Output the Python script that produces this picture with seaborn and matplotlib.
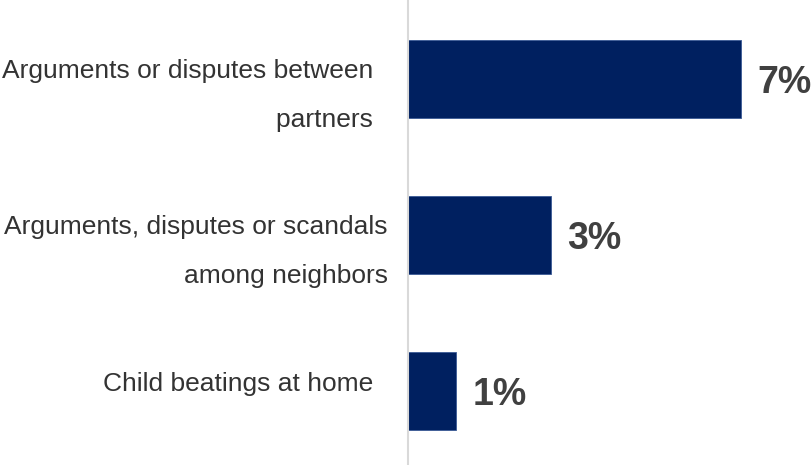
import matplotlib
matplotlib.use("Agg")
import matplotlib.pyplot as plt
import matplotlib.transforms as mtransforms
import seaborn as sns

# chart data
categories = [
    "Arguments or disputes between  \npartners  ",
    "Arguments, disputes or scandals\namong neighbors",
    "Child beatings at home  ",
]
values = [7, 3, 1]
value_labels = ["7%", "3%", "1%"]

sns.set_theme(style="white")
plt.rcParams["font.family"] = ["Liberation Sans", "DejaVu Sans"]

fig = plt.figure(figsize=(8.11, 4.65), dpi=100)
ax = fig.add_axes([408 / 811, 0, 403 / 811, 1])

sns.barplot(x=values, y=categories, orient="h", color="#002060",
            saturation=1, width=0.5, edgecolor="#3a5a95", linewidth=0.6, ax=ax)

# value labels at the end of each bar
texts = ax.bar_label(ax.containers[0], labels=value_labels, padding=12,
                     fontsize=27, fontweight="bold", color="#404040")
for t in texts:
    t.set_verticalalignment("center_baseline")

ax.set_xlim(0, 8.47)
ax.set_ylim(2.474, -0.506)
ax.set_xlabel("")
ax.set_ylabel("")
ax.set_xticks([])
ax.set_yticks([])

# category labels: first line baseline sits on the bar centre
label_trans = ax.get_yaxis_transform() + mtransforms.ScaledTranslation(
    -0.20, 0, fig.dpi_scale_trans)
for i, cat in enumerate(categories):
    ax.text(0, i - 0.125, cat, transform=label_trans, ha="right", va="top",
            multialignment="right", linespacing=2.27, fontsize=19,
            color="#333333")

for side in ["top", "right", "bottom"]:
    ax.spines[side].set_visible(False)
ax.spines["left"].set_color("#d9d9d9")
ax.spines["left"].set_linewidth(1.5)

fig.savefig("out.png", dpi=100, facecolor="white")
